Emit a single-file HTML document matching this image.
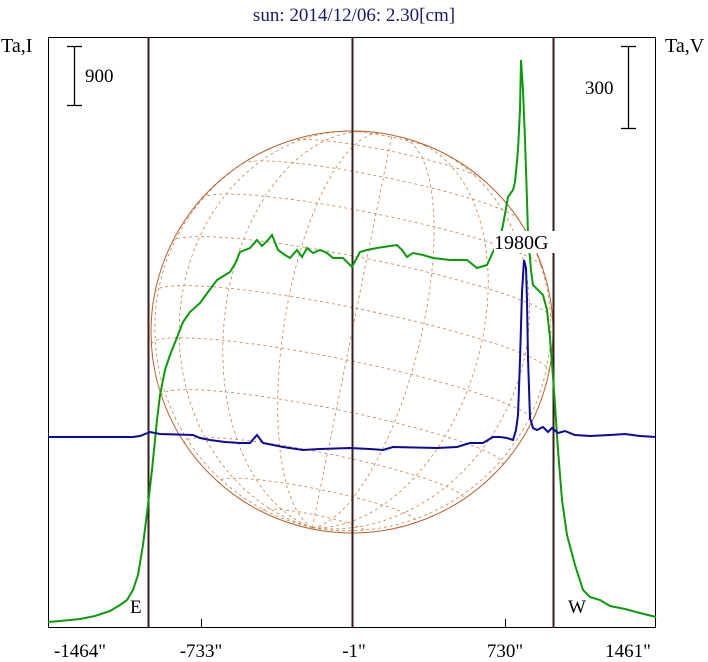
<!DOCTYPE html>
<html><head><style>
body{margin:0;background:#fff;}
svg{display:block;font-family:"Liberation Serif",serif;}
</style></head><body>
<svg id="s" width="708" height="662" viewBox="0 0 708 662" xmlns="http://www.w3.org/2000/svg">
<rect width="708" height="662" fill="#fff"/>
<text x="354" y="21" font-size="19" fill="#1a1a6e" text-anchor="middle">sun: 2014/12/06: 2.30[cm]</text>
<text x="1" y="52" font-size="20" fill="#000">Ta,I</text>
<text x="665" y="52" font-size="20" fill="#000">Ta,V</text>
<g id="globe"></g>
<circle cx="352" cy="332" r="201" fill="none" stroke="#b8622a" stroke-width="1"/>
<rect x="48.5" y="37.5" width="607" height="590" fill="none" stroke="#000" stroke-width="1"/>
<line x1="148.5" y1="37" x2="148.5" y2="628" stroke="#3a1e1e" stroke-width="2"/>
<line x1="352.5" y1="37" x2="352.5" y2="628" stroke="#3a1e1e" stroke-width="2"/>
<line x1="553.5" y1="37" x2="553.5" y2="628" stroke="#3a1e1e" stroke-width="2"/>
<line x1="201.5" y1="619" x2="201.5" y2="628" stroke="#000"/>
<line x1="505.5" y1="619" x2="505.5" y2="628" stroke="#000"/>
<g stroke="#000" stroke-width="1.3">
<line x1="74.5" y1="46" x2="74.5" y2="105"/><line x1="67" y1="46.5" x2="82" y2="46.5"/><line x1="67" y1="105.5" x2="82" y2="105.5"/>
<line x1="628.5" y1="46" x2="628.5" y2="128"/><line x1="621" y1="46.5" x2="636" y2="46.5"/><line x1="621" y1="128.5" x2="636" y2="128.5"/>
</g>
<text x="85" y="82" font-size="19">900</text>
<text x="585" y="94" font-size="19">300</text>
<polyline fill="none" stroke="#0a9a0a" stroke-width="2" points="48,622 60,621 80,619 95,616 110,611 120,605 127,600 133,590 138,575 143,545 148,505 152,470 157,420 160,395 165,370 170,355 176,340 183,322 190,312 200,303 208,292 217,280 230,272 236,262 240,252 250,248 257,240 262,246 268,240 272,235 278,250 285,255 290,258 297,250 302,257 307,248 313,253 320,250 327,253 333,258 343,258 352,267 360,252 367,250 377,248 390,246 397,245 402,250 407,257 413,253 423,255 433,258 450,260 467,260 477,268 487,265 493,252 500,238 503,225 508,197 513,190 515,182 518,150 520,110 521,60 523,90 525,140 527,200 528,235 531,270 533,285 543,295 547,310 550,338 554,390 558,450 562,500 567,535 575,565 583,590 590,597 600,600 610,606 625,609 640,613 656,617"/>
<polyline fill="none" stroke="#0a0aa0" stroke-width="2" points="48,437 100,437 133,437 140,436 150,432 160,434 193,435 200,438 210,440 225,442 240,443 250,443 257,435 263,443 283,447 303,450 320,449 350,448 370,449 383,450 393,447 437,448 457,447 470,443 483,443 493,437 500,437 507,438 513,440 516,430 518,415 520,360 522,292 524,260 526,268 527,300 528,358 530,418 533,428 537,430 543,427 548,432 552,428 558,433 565,431 575,435 590,436 610,435 625,434 640,436 656,437"/>
<rect x="494" y="231" width="61" height="22" fill="#fff"/>
<text x="494" y="249" font-size="20">1980G</text>
<text x="130" y="613" font-size="19">E</text>
<text x="568" y="613" font-size="19">W</text>
<g font-size="19" text-anchor="middle">
<text x="80" y="657">-1464"</text>
<text x="201" y="657">-733"</text>
<text x="354" y="657">-1"</text>
<text x="505" y="657">730"</text>
<text x="628" y="657">1461"</text>
</g>
</svg>
<script>
(function(){
var cx=352,cy=332,R=201,B=-0.12,P=-0.2,g=document.getElementById('globe'),s='';
function proj(lat,lon){var x=Math.cos(lat)*Math.sin(lon),y=Math.sin(lat),z=Math.cos(lat)*Math.cos(lon);
var y2=y*Math.cos(B)-z*Math.sin(B),z2=y*Math.sin(B)+z*Math.cos(B);
var xr=x*Math.cos(P)-y2*Math.sin(P),yr=x*Math.sin(P)+y2*Math.cos(P);return [cx+R*xr,cy-R*yr,z2];}
function line(f){var d='',pen=false;for(var t=0;t<=180;t++){var p=f(t);if(p[2]>=0){d+=(pen?'L':'M')+p[0].toFixed(1)+','+p[1].toFixed(1);pen=true;}else pen=false;}
s+='<path d="'+d+'" fill="none" stroke="#c8804a" stroke-width="0.8" stroke-dasharray="3,3"/>';}
var D=Math.PI/180;
for(var la=-75;la<=75;la+=15){(function(la){line(function(t){return proj(la*D,(t*2-180)*D);});})(la);}
for(var lo=-80;lo<=80;lo+=20){(function(lo){line(function(t){return proj((t-90)*D,lo*D);});})(lo);}
g.innerHTML=s;
})();
</script>
</body></html>
